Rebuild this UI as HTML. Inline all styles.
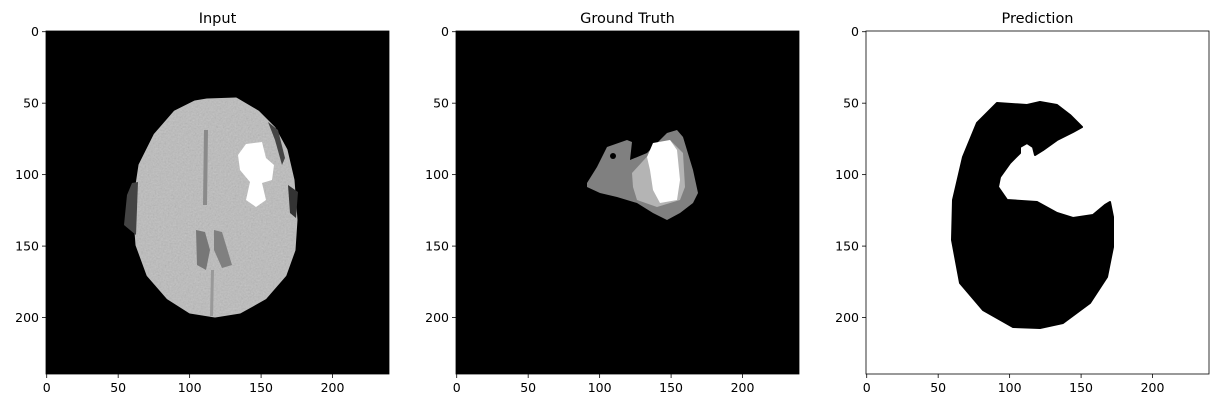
<!DOCTYPE html>
<html><head><meta charset="utf-8"><style>
body{margin:0;background:#fff;width:1222px;height:407px;overflow:hidden;font-family:"Liberation Sans","DejaVu Sans",sans-serif}
svg text{font-family:"DejaVu Sans","Liberation Sans",sans-serif}
</style></head><body>
<svg id="fig" width="1222" height="407" xmlns="http://www.w3.org/2000/svg">
<defs><filter id="noise"><feTurbulence type="fractalNoise" baseFrequency="0.6" numOctaves="2" result="n"/><feColorMatrix type="saturate" values="0"/><feComposite in2="SourceGraphic" operator="in"/></filter></defs>
<g id="img1">
<rect x="46" y="31" width="343" height="343" fill="#000"/>
<path d="M207,100 L236,99 L258,112 L274,128 L286,150 L293,180 L296,220 L294,250 L285,275 L265,298 L240,312 L215,316 L190,312 L168,298 L148,275 L137,245 L134,205 L140,165 L155,135 L175,112 L195,102 Z" fill="#bcbcbc" stroke="#bcbcbc" stroke-width="3" stroke-linejoin="round"/>
<path d="M207,100 L236,99 L258,112 L274,128 L286,150 L293,180 L296,220 L294,250 L285,275 L265,298 L240,312 L215,316 L190,312 L168,298 L148,275 L137,245 L134,205 L140,165 L155,135 L175,112 L195,102 Z" fill="#888" opacity="0.35" filter="url(#noise)"/>
<path d="M196,230 L205,232 L210,250 L206,270 L197,265 Z" fill="#777"/>
<path d="M214,230 L222,232 L232,265 L222,268 L214,250 Z" fill="#808080"/>
<path d="M204,130 L208,130 L207,205 L203,205 Z" fill="#8a8a8a"/>
<path d="M211,270 L214,270 L213,316 L210,316 Z" fill="#999"/>
<path d="M246,144 L262,142 L266,158 L274,165 L272,180 L262,183 L266,200 L256,207 L246,200 L250,182 L240,170 L238,155 Z" fill="#fff"/>
<path d="M268,122 L278,130 L285,158 L282,165 L275,140 Z" fill="#444"/>
<path d="M288,185 L298,192 L296,218 L290,213 Z" fill="#333"/>
<path d="M132,183 L138,182 L136,235 L124,225 L127,195 Z" fill="#444"/>
</g>
<g id="img2">
<rect x="456" y="31" width="343" height="343" fill="#000"/>
<path d="M587,183 L597,167 L607,147 L627,140 L632,142 L630,160 L647,153 L667,133 L677,130 L683,137 L693,170 L698,193 L693,203 L680,213 L667,220 L653,213 L637,203 L617,197 L600,193 L587,187 Z" fill="#808080"/>
<path d="M632,173 L653,150 L670,140 L683,153 L685,187 L680,200 L657,207 L637,200 L633,187 Z" fill="#b4b4b4"/>
<path d="M653,143 L670,140 L677,150 L680,180 L677,200 L660,203 L653,190 L650,170 L647,157 Z" fill="#fff"/>
<circle cx="613" cy="156" r="3" fill="#000"/>
</g>
<g id="img3">
<rect x="866" y="31" width="343" height="343" fill="#fff"/>
<path d="M997,103 L1027,105 L1040,102 L1057,105 L1070,115 L1082,127 L1073,132 L1057,140 L1043,150 L1035,155 L1033,147 L1027,143 L1020,147 L1020,153 L1010,163 L1000,177 L998,187 L1007,200 L1037,202 L1057,213 L1073,218 L1093,215 L1105,205 L1110,202 L1113,217 L1113,247 L1107,277 L1090,303 L1063,323 L1040,328 L1013,327 L983,310 L960,283 L952,240 L953,200 L963,157 L977,123 Z" fill="#000" stroke="#000" stroke-width="2" stroke-linejoin="round"/>
</g>
<g id="axes"></g>
</svg>
<script>
const ticks=[0,50,100,150,200];
const tickLabels=["0","50","100","150","200"];
const panelLefts=[46,456,866];
const titles=["Input","Ground Truth","Prediction"];
const top0=31, size=343, n=240;
const ns="http://www.w3.org/2000/svg";
const g=document.getElementById('axes');
function mk(t,a){const e=document.createElementNS(ns,t);for(const k in a)e.setAttribute(k,a[k]);g.appendChild(e);return e;}
panelLefts.forEach((L,p)=>{
 const sx=v=>L+(v+0.5)*size/n, sy=v=>top0+(v+0.5)*size/n;
 const fr=mk('rect',{x:L,y:top0,width:size,height:size,fill:'none',stroke:'#000','stroke-width':0.8});
 
 
 const tt=mk('text',{x:L+size/2,y:top0-8,'text-anchor':'middle','font-size':14.5,fill:'#000'});
 tt.textContent=titles[p];
 
 
 ticks.forEach((v,i)=>{
  const x=sx(v), y=sy(v);
  mk('line',{x1:x,x2:x,y1:top0+size,y2:top0+size+4,stroke:'#000','stroke-width':0.8});
  const xl=mk('text',{x:x,y:top0+size+18,'text-anchor':'middle','font-size':12.5,fill:'#000'});
  xl.textContent=tickLabels[i];
  
  
  mk('line',{x1:L-4,x2:L,y1:y,y2:y,stroke:'#000','stroke-width':0.8});
  const yl=mk('text',{x:L-7,y:y+4.5,'text-anchor':'end','font-size':12.5,fill:'#000'});
  yl.textContent=tickLabels[i];
  
  
 });
});
</script>
</body></html>
